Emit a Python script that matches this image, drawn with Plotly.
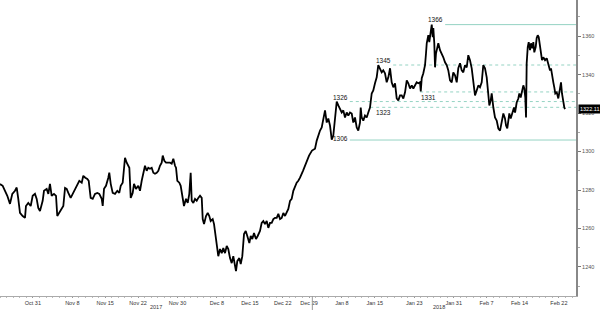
import plotly.graph_objects as go
import pandas as pd

# ---- categories: trading days (weekends and Dec 25 / Jan 1 removed) ----
holidays = ["2017-12-25", "2018-01-01"]
trading_days = [d.strftime("%Y-%m-%d") for d in pd.bdate_range("2017-10-24", "2018-02-23")
                if d.strftime("%Y-%m-%d") not in holidays]

tick_dates = ["2017-10-31", "2017-11-08", "2017-11-15", "2017-11-22", "2017-11-30",
              "2017-12-08", "2017-12-15", "2017-12-22", "2017-12-29", "2018-01-08",
              "2018-01-15", "2018-01-23", "2018-01-31", "2018-02-07", "2018-02-14",
              "2018-02-22"]
tick_labels = ["Oct 31", "Nov 8", "Nov 15", "Nov 22", "Nov 30", "Dec 8", "Dec 15", "Dec 22",
               "Dec 29", "Jan 8", "Jan 15", "Jan 23", "Jan 31", "Feb 7", "Feb 14", "Feb 22"]
year_labels = ["2017", "2018"]

# ---- series: time in trading days since 24 Oct 2017, gold price ----
t_days = [
    0.00, 0.41, 0.76, 1.11, 1.52, 1.87, 2.28, 2.54, 2.78, 3.04, 3.45, 3.80, 3.95, 4.30, 4.67,
    4.97, 5.32, 5.58, 5.82, 6.08, 6.49, 6.69, 7.10, 7.35, 7.60, 7.86, 8.21, 8.52, 8.71, 9.02,
    9.38, 9.63, 9.89, 10.14, 10.39, 10.75, 11.06, 11.41, 11.76, 12.06, 12.43, 12.67, 12.97,
    13.28, 13.49, 13.79, 14.10, 14.45, 14.80, 15.10,
    15.47, 15.62, 15.82, 16.12, 16.47, 16.62, 16.84, 17.14, 17.49, 17.84, 18.14, 18.36, 18.66,
    18.86, 19.01, 19.27, 19.51, 19.67, 19.88, 20.18, 20.38, 20.68, 21.03, 21.29, 21.55, 21.79,
    22.05, 22.31, 22.55, 22.81, 23.07, 23.32, 23.57, 23.83, 24.08, 24.33, 24.59, 24.75, 24.99,
    25.25, 25.60, 25.86, 26.11, 26.36, 26.62, 26.77, 26.97, 27.27, 27.48, 27.79, 27.98, 28.29,
    28.55, 28.79, 29.00, 29.16, 29.40, 29.66, 29.92, 30.16, 30.42,
    30.68, 30.83, 31.03, 31.33, 31.59, 31.83, 32.04, 32.35, 32.55, 32.85, 33.05, 33.20, 33.46,
    33.72, 33.96, 34.22, 34.48, 34.72, 34.98, 35.24, 35.48, 35.74, 35.89, 36.09, 36.40, 36.61,
    36.85, 37.11, 37.37, 37.61, 37.92, 38.13, 38.37, 38.63, 38.93, 39.19, 39.54, 39.80, 40.05,
    40.30, 40.56, 40.81, 41.06, 41.32, 41.57, 41.82, 42.08, 42.33, 42.59, 42.84, 43.09, 43.35,
    43.60, 43.85, 44.11, 44.36, 44.61, 44.87, 45.12, 45.37, 45.63,
    46.08, 46.54, 47.00, 47.45, 47.91,
    48.17, 48.41, 48.67, 48.93, 49.17, 49.43, 49.69, 49.93, 50.19, 50.45, 50.69, 50.95, 51.21,
    51.45, 51.71, 51.97, 52.21, 52.47, 52.73, 52.97, 53.23, 53.49, 53.73, 53.99, 54.25, 54.49,
    54.75, 54.86, 55.01, 55.25, 55.51, 55.77, 56.01, 56.27, 56.53, 56.77, 57.03, 57.29, 57.53,
    57.79, 58.05, 58.29, 58.55, 58.81, 59.06, 59.32, 59.57, 59.82, 60.08, 60.33, 60.58, 60.84,
    61.09, 61.34, 61.60, 61.86, 62.10, 62.36, 62.62, 62.86, 63.12, 63.37, 63.62, 63.88, 63.99,
    64.14, 64.38, 64.64, 64.79, 64.90, 65.14, 65.29, 65.50, 65.66, 65.81, 65.90, 66.05, 66.16,
    66.31, 66.51, 66.66, 66.92, 67.18, 67.42, 67.68, 67.94, 68.18, 68.44, 68.70, 68.94, 69.20,
    69.46, 69.70, 69.96, 70.22, 70.46, 70.72, 70.98, 71.22, 71.48, 71.74, 71.98, 72.24, 72.50,
    72.74, 73.00, 73.26, 73.50, 73.76, 74.02, 74.27, 74.42, 74.63, 74.78, 75.03, 75.28, 75.54,
    75.79, 76.05,
    76.30, 76.55, 76.80, 76.96, 77.15, 77.31, 77.46, 77.67, 77.98, 78.17, 78.33, 78.58, 78.83,
    78.98, 79.19, 79.34, 79.59, 79.74, 79.89, 80.00, 80.10, 80.26, 80.41, 80.61, 80.76, 80.96,
    81.11, 81.26, 81.47, 81.62, 81.78, 81.93, 82.02, 82.13, 82.28, 82.43, 82.63, 82.89, 83.15,
    83.39, 83.65, 83.80, 84.00, 84.15, 84.30, 84.45, 84.67, 84.91, 85.17, 85.32, 85.47, 85.67,
    85.82, 85.93,
]
gold = [
    1283.1, 1282.2, 1279.6, 1277.0, 1272.8, 1278.0, 1279.6, 1281.3, 1275.4, 1268.1, 1266.5,
    1265.5, 1271.7, 1273.3, 1271.7, 1277.0, 1278.0, 1275.4, 1270.7, 1269.1, 1274.4, 1279.6,
    1280.6, 1278.0, 1283.2, 1277.0, 1278.0, 1277.0, 1266.5, 1268.1, 1270.2, 1271.7, 1281.1,
    1280.6, 1278.5, 1275.9, 1278.0, 1280.6, 1283.2, 1284.8, 1283.8, 1287.4, 1286.4, 1285.8,
    1284.8, 1275.9, 1275.4, 1278.0, 1278.5, 1278.0,
    1275.4, 1271.7, 1280.6, 1282.2, 1286.4, 1289.0, 1283.2, 1278.5, 1278.0, 1279.6, 1278.5,
    1282.2, 1283.8, 1290.0, 1296.8, 1294.2, 1292.6, 1291.6, 1275.9, 1278.5, 1283.2, 1280.6,
    1282.2, 1279.6, 1284.8, 1288.5, 1292.6, 1290.0, 1291.6, 1291.1, 1291.6, 1289.0, 1288.5,
    1289.0, 1290.0, 1292.6, 1294.2, 1297.9, 1295.2, 1294.2, 1294.2, 1294.2, 1293.7, 1296.3,
    1292.6, 1291.6, 1284.8, 1283.8, 1282.2, 1274.4, 1271.7, 1275.4, 1273.3, 1278.0, 1289.0,
    1274.4, 1273.3, 1275.4, 1274.4, 1275.9, 1277.0,
    1275.9, 1264.9, 1262.3, 1266.5, 1268.1, 1266.5, 1263.9, 1264.9, 1262.3, 1255.0, 1250.9,
    1245.6, 1249.3, 1247.2, 1249.8, 1247.2, 1250.9, 1249.3, 1244.6, 1242.0, 1245.6, 1241.5,
    1237.8, 1243.0, 1244.6, 1241.5, 1245.6, 1257.1, 1258.7, 1256.1, 1252.4, 1256.1, 1254.5,
    1257.6, 1254.5, 1256.1, 1258.7, 1262.9, 1263.9, 1262.3, 1263.9, 1260.3, 1262.9, 1262.9,
    1264.9, 1265.5, 1265.5, 1267.6, 1264.9, 1265.5, 1268.1, 1266.5, 1268.1, 1270.2, 1274.4,
    1275.4, 1279.6, 1282.2, 1283.8, 1284.8, 1286.4,
    1290.0, 1294.2, 1297.9, 1300.5, 1301.5,
    1305.7, 1308.3, 1310.9, 1312.5, 1317.7, 1321.4, 1315.1, 1317.2, 1313.5, 1306.2, 1308.3,
    1317.7, 1326.0, 1324.0, 1322.4, 1320.3, 1321.4, 1317.7, 1320.3, 1318.7, 1320.3, 1319.8,
    1315.1, 1317.7, 1312.5, 1310.9, 1315.1, 1322.9, 1317.7, 1316.1, 1318.7, 1317.7, 1320.3,
    1322.9, 1330.2, 1331.8, 1335.5, 1338.6, 1345.0, 1343.3, 1341.2, 1342.2, 1340.7, 1336.0,
    1338.6, 1343.3, 1336.0, 1333.4, 1335.5, 1327.6, 1326.6, 1329.2,
    1329.2, 1327.6, 1330.8, 1337.0, 1335.5, 1332.8, 1334.4, 1332.8, 1334.4, 1336.0, 1335.5,
    1336.0, 1331.2, 1338.1, 1340.7, 1344.9, 1351.1, 1356.3, 1360.5, 1356.9, 1362.1, 1366.0,
    1359.5, 1364.2, 1356.3, 1343.8, 1351.1, 1354.3, 1356.3, 1352.7, 1351.1, 1349.0, 1346.4,
    1344.9, 1342.2, 1337.0, 1336.0, 1341.2, 1339.6, 1336.0, 1343.3, 1345.9, 1342.2, 1341.2,
    1344.9, 1343.8, 1350.1, 1347.5, 1343.3, 1337.0, 1329.2, 1331.8, 1334.4, 1333.4, 1336.0,
    1344.9, 1343.3, 1338.6, 1330.2, 1324.0, 1326.6, 1330.2, 1322.9, 1317.7, 1316.1, 1312.0,
    1310.9,
    1316.1, 1319.8, 1317.2, 1313.5, 1312.0, 1315.1, 1319.8, 1317.2, 1321.4, 1322.9, 1320.3,
    1325.5, 1327.6, 1330.2, 1328.1, 1330.8, 1334.4, 1332.8, 1328.1, 1317.7, 1345.9, 1354.3,
    1356.9, 1352.7, 1356.3, 1353.7, 1356.9, 1351.6, 1354.3, 1359.0, 1360.5, 1359.5, 1356.9,
    1354.3, 1350.1, 1347.5, 1349.0, 1347.5, 1348.5, 1345.9, 1342.2, 1343.3, 1338.1, 1336.0,
    1333.4, 1330.2, 1330.8, 1327.6, 1332.8, 1336.0, 1330.2, 1325.5, 1322.9, 1322.11,
]
last_price = 1322.11

# ---- support / resistance levels ----
level_values = [1366, 1345, 1331, 1326, 1323, 1306]
level_start = [67.7, 59.8, 63.9, 53.2, 56.3, 53.2]   # trading-day index where level begins
level_solid = [True, False, False, False, False, True]

x_end = 87.6
y_min, y_max = 1224.9, 1378.8
LEVEL_COLOR = "#95d3c3"
FONT = "Liberation Sans"

fig = go.Figure()

for v, s, solid in zip(level_values, level_start, level_solid):
    fig.add_trace(go.Scatter(
        x=[s, x_end], y=[v, v], mode="lines", hoverinfo="skip", showlegend=False,
        line=dict(color=LEVEL_COLOR, width=1, dash="solid" if solid else "3px,3px")))

fig.add_trace(go.Scatter(x=t_days, y=gold, mode="lines", showlegend=False,
                         line=dict(color="#000000", width=1.8)))

tick_pos = [trading_days.index(d) for d in tick_dates]

annotations = []
label_cfg = {
    1366: dict(xanchor="right", yanchor="bottom", xshift=0, yshift=0),
    1345: dict(xanchor="right", yanchor="bottom", xshift=0, yshift=-1),
    1326: dict(xanchor="right", yanchor="bottom", xshift=0, yshift=-1),
    1306: dict(xanchor="right", yanchor="middle", xshift=0, yshift=2),
    1331: dict(xanchor="left", yanchor="top", xshift=-1, yshift=0),
    1323: dict(xanchor="left", yanchor="top", xshift=4, yshift=0),
}
for v, s in zip(level_values, level_start):
    c = label_cfg[v]
    annotations.append(dict(x=s, y=v, xref="x", yref="y", text=str(v), showarrow=False,
                            font=dict(family=FONT, size=6.5, color="#111"),
                            xanchor=c["xanchor"], yanchor=c["yanchor"],
                            xshift=c["xshift"], yshift=c["yshift"]))

annotations.append(dict(x=1, xref="paper", y=last_price, yref="y", text=f"{last_price:.2f}",
                        showarrow=False, xanchor="left", yanchor="middle", xshift=2,
                        bgcolor="#000000", borderpad=1,
                        font=dict(family=FONT, size=5.5, color="#ffffff")))

split = trading_days.index("2018-01-02") - 0.5
year_centers = [split / 2, (split + t_days[-1]) / 2]
for yl, xc in zip(year_labels, year_centers):
    annotations.append(dict(x=xc, xref="x", y=0, yref="paper", text=yl, showarrow=False,
                            xanchor="center", yanchor="top", yshift=-6,
                            font=dict(family=FONT, size=5.5, color="#333")))

shapes = [dict(type="line", xref="x", yref="paper", x0=split, x1=split, y0=0, y1=-0.05,
               line=dict(color="#999", width=1))]

fig.update_layout(
    width=600, height=310,
    margin=dict(l=0, r=24, t=0, b=14),
    paper_bgcolor="#ffffff", plot_bgcolor="#ffffff",
    annotations=annotations, shapes=shapes,
    xaxis=dict(range=[0, x_end], showgrid=False, zeroline=False,
               showline=True, linecolor="#aaaaaa", linewidth=1,
               tickmode="array", tickvals=tick_pos, ticktext=tick_labels,
               ticks="outside", ticklen=1, tickcolor="#999",
               tickfont=dict(family=FONT, size=5.5, color="#333"),
               ticklabelstandoff=0,
               minor=dict(dtick=1, tick0=0, ticks="outside", ticklen=1, tickcolor="#bbb")),
    yaxis=dict(range=[y_min, y_max], side="right", showgrid=False, zeroline=False,
               showline=True, linecolor="#888888", linewidth=2,
               tickmode="array", tickvals=[1240, 1260, 1280, 1300, 1320, 1340, 1360],
               ticks="outside", ticklen=3, tickcolor="#777",
               tickfont=dict(family=FONT, size=5.5, color="#555"),
               minor=dict(tickvals=[1230, 1250, 1270, 1290, 1310, 1330, 1350, 1370],
                          ticks="outside", ticklen=2, tickcolor="#aaa")),
)

fig.write_html("out.html")
